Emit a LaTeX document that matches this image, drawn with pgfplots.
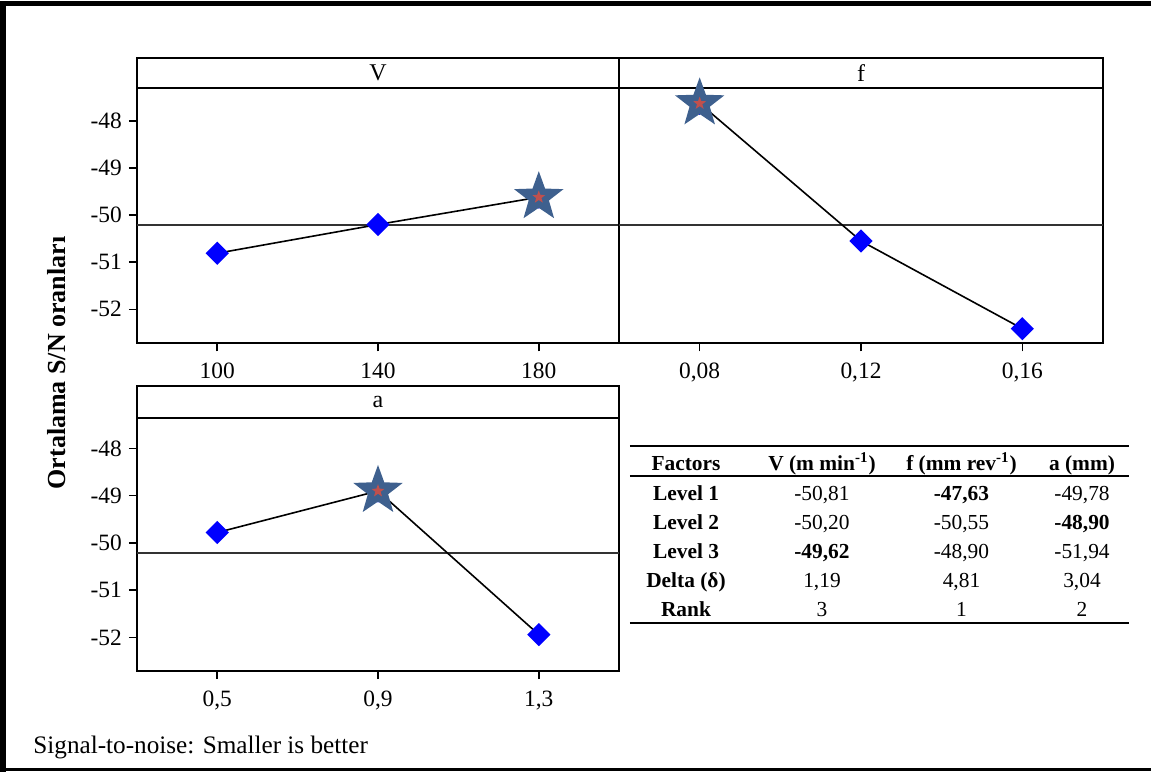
\documentclass[border=0pt]{standalone}
\usepackage{fontspec}
\setmainfont{Liberation Serif}
\usepackage{pgfplots}
\pgfplotsset{compat=1.18}
\definecolor{starblue}{RGB}{62,96,142}
\definecolor{starred}{RGB}{192,80,77}
\definecolor{mkblue}{RGB}{0,0,255}
\definecolor{refgray}{RGB}{50,50,50}
\pgfdeclareplotmark{fstar}{%
 \pgfpathmoveto{\pgfpointpolar{90}{\pgfplotmarksize}}%
 \pgfpathlineto{\pgfpointpolar{126}{0.41\pgfplotmarksize}}%
 \pgfpathlineto{\pgfpointpolar{162}{\pgfplotmarksize}}%
 \pgfpathlineto{\pgfpointpolar{198}{0.41\pgfplotmarksize}}%
 \pgfpathlineto{\pgfpointpolar{234}{\pgfplotmarksize}}%
 \pgfpathlineto{\pgfpointpolar{270}{0.41\pgfplotmarksize}}%
 \pgfpathlineto{\pgfpointpolar{306}{\pgfplotmarksize}}%
 \pgfpathlineto{\pgfpointpolar{342}{0.41\pgfplotmarksize}}%
 \pgfpathlineto{\pgfpointpolar{18}{\pgfplotmarksize}}%
 \pgfpathlineto{\pgfpointpolar{54}{0.41\pgfplotmarksize}}%
 \pgfpathclose\pgfusepathqfill}
\pgfplotsset{
  mepanel/.style={
    scale only axis, anchor=south west,
    xmin=0.5, xmax=3.5, xtick={1,2,3},
    ytick={-52,-51,-50,-49,-48},
    yticklabels={-52,-51,-50,-49,-48},
    tick align=outside, major tick length=4pt,
    xtick pos=lower, ytick pos=left,
    axis line style={line width=0.8pt},
    every tick/.style={black, line width=0.8pt},
    clip=false,
    tick label style={font=\fontsize{11.7}{13}\selectfont},
    xticklabel style={yshift=-2.3pt},
  },
  dataline/.style={black, line width=0.8pt, mark=square*, mark size=3.7pt,
    mark options={rotate=45, mkblue, solid}},
  refline/.style={refgray, line width=0.7pt, forget plot},
  bigstar/.style={only marks, mark=fstar, mark size=13pt, starblue, mark options={fill=starblue}},
  smallstar/.style={only marks, mark=fstar, mark size=3.4pt, starred, mark options={fill=starred}},
}
\newcommand{\strip}[2]{%
  \draw[line width=0.8pt] (rel axis cs:0,1) rectangle ([yshift=#1]rel axis cs:1,1);
  \node[font=\fontsize{12}{14}\selectfont] at ([yshift=#1/2]rel axis cs:0.5,1) {#2};}
\newcommand{\tb}[3]{\node[anchor=base, font=\fontsize{10.7}{12}\selectfont] at (#1pt,#2pt) {#3};}
\begin{document}
\begin{tikzpicture}
\useasboundingbox (0,0) rectangle (575.5pt,386pt);
% frame
\fill[black] (0,382.75pt) rectangle (575.5pt,385.25pt);
\fill[black] (0,0) rectangle (3pt,385.25pt);
\fill[black] (0,0.75pt) rectangle (575.5pt,2pt);
% V panel
\begin{axis}[mepanel, at={(68.4pt,214.35pt)}, width=241.2pt, height=127.5pt,
  ymin=-52.72, ymax=-47.31, xticklabels={100,140,180}]
\strip{15pt}{V}
\addplot[refline] coordinates {(0.5,-50.21) (3.5,-50.21)};
\addplot[dataline] coordinates {(1,-50.81) (2,-50.20) (3,-49.62)};
\addplot[bigstar] coordinates {(3,-49.62)};
\addplot[smallstar] coordinates {(3,-49.62)};
\end{axis}
% f panel
\begin{axis}[mepanel, at={(309.5pt,214.35pt)}, width=242pt, height=127.5pt,
  ymin=-52.72, ymax=-47.31, ytick=\empty, xticklabels={{0,08},{0,12},{0,16}}]
\strip{15pt}{f}
\addplot[refline] coordinates {(0.5,-50.21) (3.5,-50.21)};
\addplot[dataline] coordinates {(1,-47.63) (2,-50.55) (3,-52.41)};
\addplot[bigstar] coordinates {(1,-47.63)};
\addplot[smallstar] coordinates {(1,-47.63)};
\end{axis}
% a panel
\begin{axis}[mepanel, at={(68.4pt,50.5pt)}, width=241.2pt, height=126.65pt,
  ymin=-52.71, ymax=-47.35, xticklabels={{0,5},{0,9},{1,3}}]
\strip{15.85pt}{a}
\addplot[refline] coordinates {(0.5,-50.21) (3.5,-50.21)};
\addplot[dataline] coordinates {(1,-49.78) (2,-48.90) (3,-51.94)};
\addplot[bigstar] coordinates {(2,-48.90)};
\addplot[smallstar] coordinates {(2,-48.90)};
\end{axis}
% y label
\node[rotate=90, font=\bfseries\fontsize{13}{15}\selectfont] at (28.3pt,204.5pt) {Ortalama S/N oranları};
% footnote
\node[anchor=base west, inner sep=0pt, font=\fontsize{12.6}{14}\selectfont] at (16.5pt,9.5pt) {Signal-to-noise: Smaller is better};
% table
\draw[line width=1pt] (314.95pt,163.15pt) -- (564.4pt,163.15pt);
\draw[line width=0.6pt] (314.95pt,148pt) -- (564.4pt,148pt);
\draw[line width=1pt] (314.95pt,74.65pt) -- (564.4pt,74.65pt);
\tb{343}{150.9}{\textbf{Factors}}
\tb{411}{150.9}{\textbf{V (m min\textsuperscript{-1})}}
\tb{480.75}{150.9}{\textbf{f (mm rev\textsuperscript{-1})}}
\tb{541}{150.9}{\textbf{a (mm)}}
\tb{343}{135.9}{\textbf{Level 1}}
\tb{411}{135.9}{-50,81}
\tb{480.75}{135.9}{\textbf{-47,63}}
\tb{541}{135.9}{-49,78}
\tb{343}{121.2}{\textbf{Level 2}}
\tb{411}{121.2}{-50,20}
\tb{480.75}{121.2}{-50,55}
\tb{541}{121.2}{\textbf{-48,90}}
\tb{343}{106.7}{\textbf{Level 3}}
\tb{411}{106.7}{\textbf{-49,62}}
\tb{480.75}{106.7}{-48,90}
\tb{541}{106.7}{-51,94}
\tb{343}{92.2}{\textbf{Delta (δ)}}
\tb{411}{92.2}{1,19}
\tb{480.75}{92.2}{4,81}
\tb{541}{92.2}{3,04}
\tb{343}{77.6}{\textbf{Rank}}
\tb{411}{77.6}{3}
\tb{480.75}{77.6}{1}
\tb{541}{77.6}{2}
\end{tikzpicture}
\end{document}
